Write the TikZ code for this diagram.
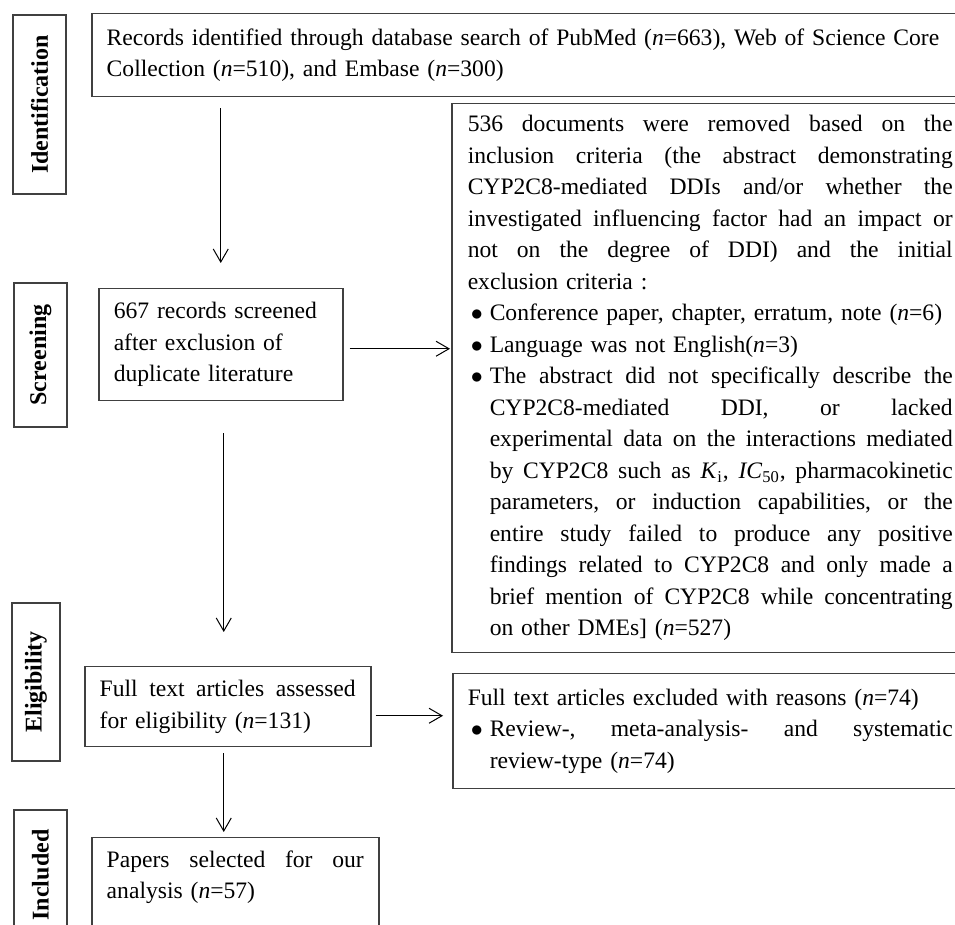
\documentclass[tikz,border=0pt]{standalone}
\usepackage{fontspec}
\setmainfont{Liberation Serif}
\usepackage{tikz}
\usetikzlibrary{positioning,calc,arrows.meta}
\definecolor{boxgray}{HTML}{404040}
\newcommand{\wideline}[2]{\makebox[#1][s]{\frenchspacing\spaceskip=\fontdimen2\font plus 1fil minus \fontdimen4\font #2}}
\newcommand{\bulitem}{\makebox[11pt][l]{\hspace{1.5pt}$\bullet$}}
\newcommand{\bulgap}{\hspace*{11pt}}

\begin{document}
\begin{tikzpicture}[x=0.5pt,y=-0.5pt,
    font=\fontsize{11.8}{15.75}\selectfont,
    box/.style={draw=boxgray, line width=0.75pt, anchor=north west, inner xsep=7.5pt, inner ysep=0pt, align=left},
    stage/.style={draw=boxgray, line width=0.75pt, rotate=90, inner sep=0pt, font=\fontsize{12}{14}\selectfont\bfseries},
    flow/.style={-{Straight Barb[length=6.5pt,width=7.5pt]}, line width=0.5pt}]

    % Frame
    \useasboundingbox (0,0) rectangle (955,925);
    \clip (0,0) rectangle (955,925);

    % Stages
    \node[stage, minimum width=89.5pt, minimum height=26.5pt] (ident) at (39.5,104.5) {Identification};
    \node[stage, minimum width=72pt, minimum height=26.5pt] (screen) at (40.5,355) {Screening};
    \node[stage, minimum width=79pt, minimum height=24pt] (elig) at (36,682) {Eligibility};
    \node[stage, minimum width=65pt, minimum height=26.5pt] (incl) at (40.5,875) {Included};

    % Main flow
    \node[box, text width=427pt, minimum height=41.5pt] (records) at (91,13)
        {Records identified through database search of PubMed (\textit{n}=663), Web of Science Core\\
         Collection (\textit{n}=510), and Embase (\textit{n}=300)};
    \node[box, text width=107pt, minimum height=56pt] (screened) at (98,288)
        {667 records screened\\after exclusion of\\duplicate literature};
    \node[box, text width=128pt, minimum height=40pt] (assessed) at (84,666)
        {\wideline{128pt}{Full text articles assessed}\\for eligibility (\textit{n}=131)};
    \node[box, text width=128.5pt, minimum height=52.6pt] (selected) at (91,837)
        {\wideline{128.5pt}{Papers selected for our}\\analysis (\textit{n}=57)\\\mbox{}};

    % Exclusions
    \node[box, text width=242.5pt, inner xsep=8pt, minimum height=274.5pt] (removed) at (451,103)
        {\wideline{242.5pt}{536 documents were removed based on the}\\
         \wideline{242.5pt}{inclusion criteria (the abstract demonstrating}\\
         \wideline{242.5pt}{CYP2C8-mediated DDIs and/or whether the}\\
         \wideline{242.5pt}{investigated influencing factor had an impact or}\\
         \wideline{242.5pt}{not on the degree of DDI) and the initial}\\
         exclusion criteria :\\
         \bulitem Conference paper, chapter, erratum, note (\textit{n}=6)\\
         \bulitem Language was not English(\textit{n}=3)\\
         \bulitem\wideline{231.5pt}{The abstract did not specifically describe the}\\
         \bulgap\wideline{231.5pt}{CYP2C8-mediated DDI, or lacked}\\
         \bulgap\wideline{231.5pt}{experimental data on the interactions mediated}\\
         \bulgap\wideline{231.5pt}{by CYP2C8 such as \textit{K}\textsubscript{i}, \textit{IC}\textsubscript{50}, pharmacokinetic}\\
         \bulgap\wideline{231.5pt}{parameters, or induction capabilities, or the}\\
         \bulgap\wideline{231.5pt}{entire study failed to produce any positive}\\
         \bulgap\wideline{231.5pt}{findings related to CYP2C8 and only made a}\\
         \bulgap\wideline{231.5pt}{brief mention of CYP2C8 while concentrating}\\
         \bulgap on other DMEs] (\textit{n}=527)};
    \node[box, text width=242.5pt, minimum height=57.5pt] (excluded) at (452,673)
        {Full text articles excluded with reasons (\textit{n}=74)\\
         \bulitem\wideline{231.5pt}{Review-, meta-analysis- and systematic}\\
         \bulgap review-type (\textit{n}=74)};

    % Arrows
    \coordinate (s1) at ([yshift=-2pt]screened.east);
    \coordinate (s2) at ([xshift=1.5pt]screened.south);
    \coordinate (a1) at ([yshift=-4.5pt]assessed.east);
    \draw[flow, shorten <=5.5pt, shorten >=12.5pt] (records.south -| screened.north) -- (screened.north);
    \draw[flow, shorten <=3pt, shorten >=0.5pt] (s1) -- (s1 -| removed.west);
    \draw[flow, shorten <=16pt, shorten >=17pt] (s2) -- (s2 |- assessed.north);
    \draw[flow, shorten <=2pt, shorten >=4.5pt] (a1) -- (a1 -| excluded.west);
    \draw[flow, shorten <=3pt, shorten >=2.5pt] (s2 |- assessed.south) -- (s2 |- selected.north);

\end{tikzpicture}
\end{document}
